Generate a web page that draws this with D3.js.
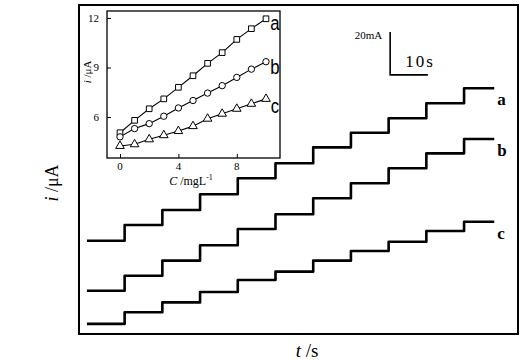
<!DOCTYPE html>
<html>
<head>
<meta charset="utf-8">
<script src="https://cdn.jsdelivr.net/npm/d3@7"></script>
<style>
  body { margin: 0; background: #fff; }
  svg { display: block; }
  text { font-family: "Liberation Serif", "DejaVu Serif", serif; fill: #000; }
</style>
</head>
<body>
<div id="chart"></div>
<script>
// --- Data: amperometric steps (main plot) ---
const stepTimes = [0, 10, 20, 30, 40, 50, 60, 70, 80, 90, 100]; // s, start of each plateau
const endTime = 108;
const levelsA = [43.4, 50.7, 57.7, 65.0, 72.4, 79.4, 86.8, 93.6, 100.3, 107.3, 114.3];
const levelsB = [20.1, 27.1, 34.1, 41.3, 48.8, 55.7, 63.1, 70.1, 77.1, 84.0, 90.7];
const levelsC = [4.7, 10.1, 14.7, 19.5, 25.1, 29.0, 34.1, 38.6, 42.9, 47.9, 52.2];
const traceNames = ["a", "b", "c"];

// --- Data: calibration inset ---
const concs = [0, 1, 2, 3, 4, 5, 6, 7, 8, 9, 10]; // mg/L
const calA = [5.05, 5.8, 6.5, 7.1, 7.8, 8.5, 9.25, 9.9, 10.7, 11.35, 11.95];
const calB = [4.8, 5.3, 5.6, 6.05, 6.55, 7.0, 7.45, 7.9, 8.4, 8.9, 9.35];
const calC = [4.25, 4.35, 4.65, 4.9, 5.15, 5.45, 5.9, 6.2, 6.5, 6.8, 7.1];
const insetYTicks = [6, 9, 12];
const insetXTicks = [0, 4, 8];

const width = 521, height = 360;
const svg = d3.select("#chart").append("svg").attr("width", width).attr("height", height);

// --- Main plot scales ---
const x = d3.scaleLinear().domain([-2.1, 114.3]).range([79, 518]);
const y = d3.scaleLinear().domain([0, 153]).range([334, 5]);

// frame
svg.append("rect")
  .attr("x", 79).attr("y", 5).attr("width", 518 - 79).attr("height", 334 - 5)
  .attr("fill", "none").attr("stroke", "#000").attr("stroke-width", 2);

// traces
const line = d3.line().x(d => x(d[0])).y(d => y(d[1])).curve(d3.curveStepAfter);
[levelsA, levelsB, levelsC].forEach((lv, k) => {
  const pts = stepTimes.map((t, i) => [t, lv[i]]);
  pts.push([endTime, lv[lv.length - 1]]);
  svg.append("path")
    .attr("d", line(pts))
    .attr("fill", "none").attr("stroke", "#000").attr("stroke-width", 2.6)
    .attr("stroke-linejoin", "round");
  svg.append("text")
    .attr("x", x(endTime) + 3).attr("y", y(lv[lv.length - 1]) + 17)
    .attr("font-size", 17).attr("font-weight", "bold")
    .text(traceNames[k]);
});

// scale bar: 20 (current) x 10 s
const sbT = 80.4, sbI = 120.5;
svg.append("path")
  .attr("d", `M${x(sbT)},${y(sbI + 20)}V${y(sbI)}H${x(sbT + 10)}`)
  .attr("fill", "none").attr("stroke", "#000").attr("stroke-width", 1.6);
svg.append("text").attr("x", x(sbT) - 8).attr("y", y(sbI + 20) + 7)
  .attr("text-anchor", "end").attr("font-size", 11).text("20mA");
svg.append("text").attr("x", x(sbT) + 15).attr("y", y(sbI) - 8)
  .attr("font-size", 17).attr("letter-spacing", 2).text("10s");

// axis titles
svg.append("text")
  .attr("transform", "translate(58,183) rotate(-90)")
  .attr("text-anchor", "middle").attr("font-size", 18)
  .html('<tspan font-style="italic">i</tspan> /μA');
svg.append("text")
  .attr("x", 307).attr("y", 357)
  .attr("text-anchor", "middle").attr("font-size", 19)
  .html('<tspan font-style="italic">t</tspan> /s');

// --- Inset ---
const ix = d3.scaleLinear().domain([-0.89, 10.96]).range([107, 280]);
const iy = d3.scaleLinear().domain([3.52, 12.42]).range([158, 11]);

const inset = svg.append("g");
inset.append("rect")
  .attr("x", 107).attr("y", 11).attr("width", 280 - 107).attr("height", 158 - 11)
  .attr("fill", "#fff").attr("stroke", "#000").attr("stroke-width", 1.3);

// ticks (inward)
inset.append("g").attr("transform", "translate(107,0)")
  .call(d3.axisRight(iy).tickValues(insetYTicks).tickSize(4).tickFormat(""))
  .call(g => g.select(".domain").remove());
inset.append("g").attr("transform", "translate(0,158)")
  .call(d3.axisTop(ix).tickValues(insetXTicks).tickSize(4).tickFormat(""))
  .call(g => g.select(".domain").remove());
inset.selectAll(".tick line").attr("stroke", "#000");

inset.selectAll(".ytl").data(insetYTicks).join("text")
  .attr("x", 99).attr("y", d => iy(d) + 4)
  .attr("text-anchor", "end").attr("font-size", 11).text(d => d);
inset.selectAll(".xtl").data(insetXTicks).join("text")
  .attr("x", d => ix(d)).attr("y", 170)
  .attr("text-anchor", "middle").attr("font-size", 11).text(d => d);

inset.append("text")
  .attr("transform", "translate(91,72) rotate(-90)")
  .attr("text-anchor", "middle").attr("font-size", 11)
  .html('<tspan font-style="italic">i</tspan> /μA');
inset.append("text")
  .attr("x", 191).attr("y", 185)
  .attr("text-anchor", "middle").attr("font-size", 12)
  .html('<tspan font-style="italic">C</tspan> /mgL<tspan dy="-5" font-size="8">-1</tspan>');

const iline = d3.line().x((d, i) => ix(concs[i])).y(d => iy(d));
const symbols = [d3.symbolSquare, d3.symbolCircle, d3.symbolTriangle];
const symSizes = [32, 32, 32];
const labelDy = [11, 12, 14];
[calA, calB, calC].forEach((cal, k) => {
  inset.append("path").attr("d", iline(cal))
    .attr("fill", "none").attr("stroke", "#000").attr("stroke-width", 1.1);
  inset.selectAll(".m" + k).data(cal).join("path")
    .attr("transform", (d, i) => `translate(${ix(concs[i])},${iy(d)})`)
    .attr("d", d3.symbol(symbols[k], symSizes[k]))
    .attr("fill", "#fff").attr("stroke", "#000").attr("stroke-width", 1);
  const lx = ix(concs[concs.length - 1]) + 9, ly = iy(cal[cal.length - 1]) + labelDy[k];
  inset.append("text")
    .attr("transform", `translate(${lx},${ly}) scale(0.8,1)`)
    .attr("text-anchor", "middle")
    .style("font-family", "'Liberation Sans', Arial, sans-serif").attr("font-size", 21)
    .text(traceNames[k]);
});
</script>
</body>
</html>
